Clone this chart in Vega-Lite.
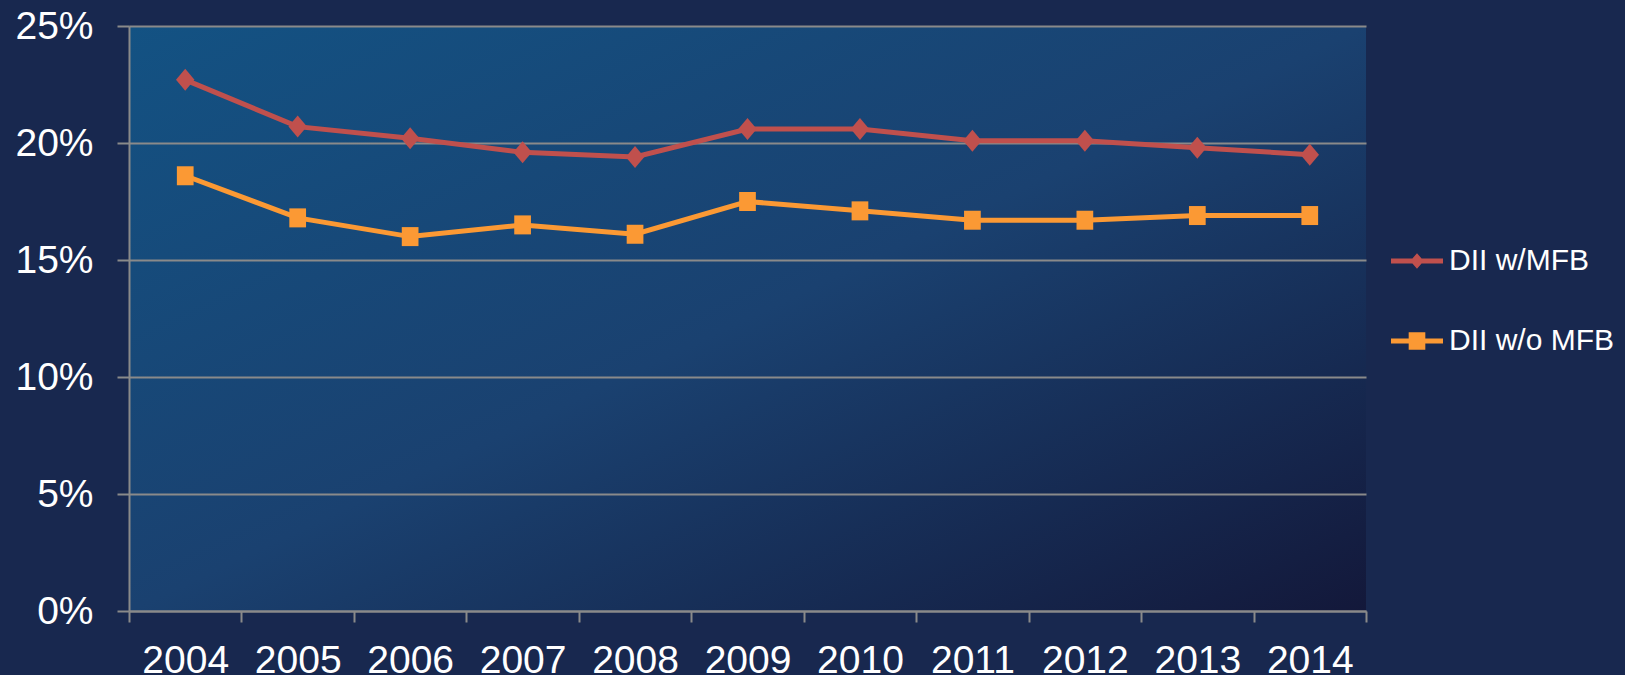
{
  "$schema": "https://vega.github.io/schema/vega-lite/v6.json",
  "width": 1237,
  "height": 585,
  "autosize": {"type": "none"},
  "padding": {"left": 129, "top": 26, "right": 259, "bottom": 64},
  "background": "#18284F",
  "config": {
    "view": {
      "stroke": null,
      "fill": {
        "gradient": "linear", "x1": 0, "y1": 0, "x2": 1, "y2": 1,
        "stops": [
          {"offset": 0, "color": "#135283"},
          {"offset": 0.5, "color": "#1A4170"},
          {"offset": 1, "color": "#13183A"}
        ]
      }
    },
    "font": "Liberation Sans"
  },
  "data": {
    "values": [
      {"year": "2004", "series": "DII w/MFB", "value": 0.227},
      {"year": "2005", "series": "DII w/MFB", "value": 0.207},
      {"year": "2006", "series": "DII w/MFB", "value": 0.202},
      {"year": "2007", "series": "DII w/MFB", "value": 0.196},
      {"year": "2008", "series": "DII w/MFB", "value": 0.194},
      {"year": "2009", "series": "DII w/MFB", "value": 0.206},
      {"year": "2010", "series": "DII w/MFB", "value": 0.206},
      {"year": "2011", "series": "DII w/MFB", "value": 0.201},
      {"year": "2012", "series": "DII w/MFB", "value": 0.201},
      {"year": "2013", "series": "DII w/MFB", "value": 0.198},
      {"year": "2014", "series": "DII w/MFB", "value": 0.195},
      {"year": "2004", "series": "DII w/o MFB", "value": 0.186},
      {"year": "2005", "series": "DII w/o MFB", "value": 0.168},
      {"year": "2006", "series": "DII w/o MFB", "value": 0.160},
      {"year": "2007", "series": "DII w/o MFB", "value": 0.165},
      {"year": "2008", "series": "DII w/o MFB", "value": 0.161},
      {"year": "2009", "series": "DII w/o MFB", "value": 0.175},
      {"year": "2010", "series": "DII w/o MFB", "value": 0.171},
      {"year": "2011", "series": "DII w/o MFB", "value": 0.167},
      {"year": "2012", "series": "DII w/o MFB", "value": 0.167},
      {"year": "2013", "series": "DII w/o MFB", "value": 0.169},
      {"year": "2014", "series": "DII w/o MFB", "value": 0.169}
    ]
  },
  "encoding": {
    "x": {
      "field": "year", "type": "ordinal",
      "scale": {"type": "band", "paddingInner": 0, "paddingOuter": 0},
      "axis": {
        "title": null, "labelAngle": 0, "tickBand": "extent", "tickSize": 11, "tickWidth": 2,
        "tickColor": "#8A8A8A", "domainColor": "#8A8A8A", "domainWidth": 2,
        "labelPadding": 19, "labelFontSize": 39, "labelColor": "#FFFFFF",
        "labelOverlap": false, "labelFlush": false, "labelBound": false, "grid": false
      }
    },
    "y": {
      "field": "value", "type": "quantitative",
      "scale": {"domain": [0, 0.25]},
      "axis": {
        "title": null, "values": [0, 0.05, 0.1, 0.15, 0.2, 0.25], "format": ".0%",
        "tickSize": 12, "tickWidth": 2, "tickColor": "#8A8A8A",
        "domainColor": "#8A8A8A", "domainWidth": 2,
        "grid": true, "gridColor": "#8A8A8A", "gridWidth": 2,
        "labelPadding": 24, "labelFontSize": 39, "labelColor": "#FFFFFF",
        "labelFlush": false, "labelOverlap": false, "labelBound": false
      }
    },
    "color": {
      "field": "series", "type": "nominal",
      "scale": {"domain": ["DII w/MFB", "DII w/o MFB"], "range": ["#C0504D", "#FB9934"]},
      "legend": null
    }
  },
  "layer": [
    {
      "mark": {"type": "line", "strokeWidth": 5},
      "encoding": {
        "color": {
          "field": "series", "type": "nominal",
          "scale": {"domain": ["DII w/MFB", "DII w/o MFB"], "range": ["#C0504D", "#FB9934"]},
          "legend": {
            "orient": "none", "legendX": 1262, "legendY": 209, "title": null,
            "labelFont": "Liberation Sans", "labelFontSize": 30, "labelColor": "#FFFFFF",
            "labelLimit": 300, "labelOffset": 6, "rowPadding": 39,
            "symbolSize": 2704, "symbolStrokeWidth": 0,
            "encode": {
              "symbols": {
                "update": {
                  "shape": {"signal": "datum.value == 'DII w/MFB' ? 'M-1,-0.1H1V0.1H-1Z M0,-0.3L0.26,0L0,0.3L-0.26,0Z' : 'M-1,-0.1H1V0.1H-1Z M-0.32,-0.34H0.32V0.34H-0.32Z'"},
                  "fill": {"signal": "datum.value == 'DII w/MFB' ? '#C0504D' : '#FB9934'"},
                  "strokeWidth": {"value": 0},
                  "opacity": {"value": 1}
                }
              }
            }
          }
        }
      }
    },
    {
      "transform": [{"filter": "datum.series == 'DII w/MFB'"}],
      "mark": {"type": "point", "shape": "M0,-1L0.84,0L0,1L-0.84,0Z", "size": 484, "filled": true, "opacity": 1}
    },
    {
      "transform": [{"filter": "datum.series == 'DII w/o MFB'"}],
      "mark": {"type": "point", "shape": "M-0.88,-1H0.88V1H-0.88Z", "size": 361, "filled": true, "opacity": 1}
    }
  ]
}
